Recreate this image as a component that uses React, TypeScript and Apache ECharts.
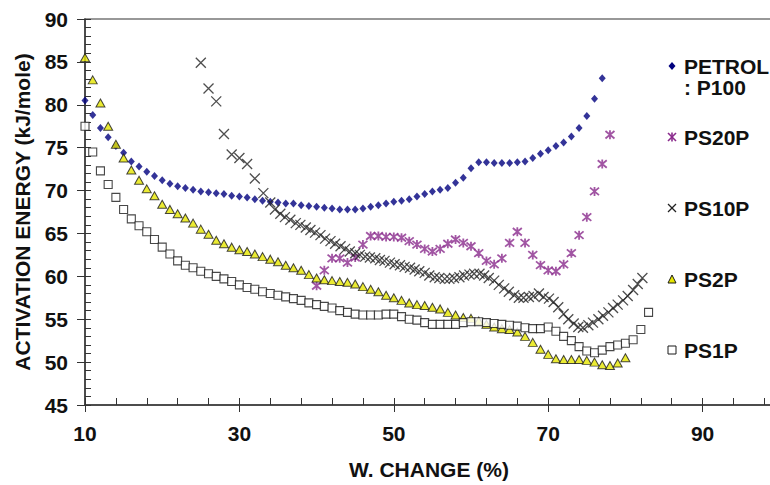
import React, { useEffect, useRef } from "react";
import * as echarts from "echarts";

// ---------- data ----------
const PETROL_START = 10;
const petrolY = [
  80.5, 78.8, 77.3, 76.2, 75.2, 74.4, 73.4, 72.8, 72.2, 71.7, 71.2, 70.8, 70.5, 70.3, 70.1, 69.9,
  69.8, 69.7, 69.6, 69.4, 69.3, 69.2, 69.0, 68.8, 68.7, 68.6, 68.5, 68.5, 68.3, 68.2, 68.1, 68.0,
  67.9, 67.8, 67.8, 67.8, 67.9, 68.1, 68.3, 68.5, 68.7, 68.8, 69.0, 69.3, 69.6, 69.9, 70.1, 70.3,
  70.9, 71.5, 72.6, 73.3, 73.3, 73.2, 73.2, 73.2, 73.3, 73.4, 73.8, 74.3, 74.7, 75.2, 75.6, 76.3,
  77.3, 78.7, 80.7, 83.1,
];

const PS20P_START = 40;
const ps20pY = [
  58.9, 60.7, 62.1, 62.1, 61.6, 62.2, 63.7, 64.7, 64.7, 64.6, 64.6, 64.5, 64.1, 63.7, 63.2, 62.9,
  63.2, 63.8, 64.3, 63.9, 63.5, 62.7, 61.8, 61.4, 62.1, 63.9, 65.2, 63.9, 62.5, 61.3, 60.7, 60.6,
  61.4, 62.7, 64.8, 66.9, 69.9, 73.1, 76.5,
];

const ps10pX = [
  25, 26, 27, 28, 29, 30, 31, 32, 33.1, 34.0, 34.6, 35.3, 35.9, 36.6, 37.3, 37.9, 38.6, 39.2, 39.8,
  40.5, 41.1, 41.8, 42.4, 43.1, 43.7, 44.3, 45.0, 45.6, 46.3, 46.9, 47.6, 48.2, 48.8, 49.5, 50.1,
  50.8, 51.4, 52.1, 52.7, 53.3, 54.0, 54.6, 55.3, 55.9, 56.6, 57.2, 57.8, 58.5, 59.1, 59.8, 60.4,
  61.1, 61.7, 62.3, 63.0, 63.6, 64.3, 64.9, 65.6, 66.2, 66.8, 67.5, 68.1, 68.8, 69.4, 70.1, 70.7,
  71.3, 72.0, 72.6, 73.3, 73.9, 74.5, 75.2, 75.8, 76.5, 77.1, 77.8, 78.4, 79.0, 79.7, 80.3, 81.0,
  81.6, 82.2,
];
const ps10pY = [
  84.9, 81.9, 80.4, 76.6, 74.2, 73.8, 73.1, 71.4, 69.7, 68.6, 67.8, 67.3, 66.9, 66.6, 66.2, 66.0,
  65.7, 65.4, 65.1, 64.8, 64.4, 64.1, 63.8, 63.5, 63.2, 62.9, 62.7, 62.5, 62.3, 62.2, 62.1, 61.9,
  61.8, 61.6, 61.4, 61.3, 61.1, 61.0, 60.8, 60.6, 60.4, 60.1, 59.9, 59.8, 59.7, 59.7, 59.8, 59.9,
  60.1, 60.2, 60.3, 60.3, 60.1, 59.8, 59.5, 59.0, 58.6, 58.2, 57.8, 57.5, 57.5, 57.6, 57.7, 58.0,
  57.6, 57.4, 57.0, 56.4, 55.6, 55.0, 54.5, 54.1, 54.0, 54.3, 54.6, 55.0, 55.4, 55.8, 56.3, 56.7,
  57.2, 57.7, 58.4, 59.1, 59.8,
];

const PS2P_START = 10;
const ps2pY = [
  85.5, 82.9, 80.2, 77.5, 75.4, 73.8, 72.4, 71.2, 70.2, 69.4, 68.4, 67.8, 67.3, 66.8, 66.2, 65.5,
  64.9, 64.2, 63.8, 63.4, 63.1, 62.9, 62.6, 62.3, 62.0, 61.7, 61.3, 61.0, 60.7, 60.2, 59.8, 59.6,
  59.5, 59.4, 59.3, 59.1, 58.8, 58.5, 58.2, 57.8, 57.5, 57.2, 56.9, 56.7, 56.6, 56.4, 56.2, 55.8,
  55.5, 55.2, 55.1, 54.8, 54.4, 54.1, 53.9, 53.8, 53.5, 53.0, 52.3, 51.5, 50.9, 50.4, 50.3, 50.3,
  50.3, 50.2, 50.0, 49.7, 49.6, 49.9, 50.5,
];

const PS1P_START = 10;
const ps1pY = [
  77.5, 74.5, 72.3, 70.7, 69.2, 67.8, 66.7, 65.9, 65.2, 64.3, 63.4, 62.6, 61.8, 61.3, 61.0, 60.6,
  60.3, 60.0, 59.7, 59.4, 59.0, 58.7, 58.5, 58.2, 58.0, 57.8, 57.6, 57.4, 57.2, 56.9, 56.7, 56.5,
  56.3, 56.0, 55.8, 55.6, 55.5, 55.5, 55.5, 55.6, 55.6, 55.3, 55.0, 54.9, 54.6, 54.4, 54.4, 54.4,
  54.4, 54.6, 54.7, 54.7, 54.6, 54.5, 54.4, 54.3, 54.2, 54.0, 53.9, 53.9, 54.1, 53.6, 53.0, 52.5,
  51.8, 51.3, 51.1, 51.4, 51.8, 52.0, 52.2, 52.6, 53.8, 55.8,
];

const X_TICKS = { min: 10, max: 110, interval: 20 };
const Y_TICKS = { min: 45, max: 90, interval: 5 };

const seriesNames = ["PETROL : P100", "PS20P", "PS10P", "PS2P", "PS1P"];

// ---------- styles ----------
const FONT = '"Liberation Sans", Arial, Helvetica, sans-serif';
const NAVY = "#00007e";
const PURPLE = "#8a2a8c";
const XCOL = "#222222";
const YELLOW = "#e6e600";
const EDGE = "#1a1a1a";

const ASTERISK = "path://M0 0L10 10M0 10L10 0M5 -1L5 11";
const CROSS = "path://M0 0L10 10M0 10L10 0";

const labelStyle = { fontSize: 21, fontWeight: "bold", fontFamily: FONT, color: "#111" };

export default function App() {
  const ref = useRef<HTMLDivElement>(null);

  useEffect(() => {
    document.body.style.margin = "0";
    if (!ref.current) return;
    const chart = echarts.init(ref.current, null, { renderer: "svg" });

    const fromStart = (start: number, ys: number[]) => ys.map((y, i) => [start + i, y]);

    const option: any = {
      animation: false,
      backgroundColor: "#ffffff",
      grid: {
        left: 85,
        top: 19,
        width: 772,
        height: 390,
        show: true,
        borderColor: "#777",
        borderWidth: 1.5,
        backgroundColor: "transparent",
      },
      xAxis: [
        {
          type: "value",
          position: "bottom",
          ...X_TICKS,
          axisLine: { lineStyle: { color: "#333", width: 1.5 } },
          axisTick: { inside: true, length: 7, lineStyle: { color: "#333", width: 1 } },
          minorTick: { show: true, splitNumber: 5, length: 7, lineStyle: { color: "#333", width: 1 } },
          axisLabel: { ...labelStyle, margin: 18, showMaxLabel: false },
          splitLine: { show: false },
          name: "W. CHANGE (%)",
          nameLocation: "middle",
          nameGap: 54,
          nameTextStyle: { ...labelStyle, padding: [0, 84, 0, 0] },
        },
        {
          type: "value",
          position: "bottom",
          ...X_TICKS,
          axisLine: { show: false },
          axisTick: { inside: false, length: 7, lineStyle: { color: "#333", width: 1 } },
          axisLabel: { show: false },
          splitLine: { show: false },
        },
      ],
      yAxis: [
        {
          type: "value",
          position: "left",
          ...Y_TICKS,
          axisLine: { show: true, lineStyle: { color: "#333", width: 1.5 } },
          axisTick: { show: true, inside: true, length: 6, lineStyle: { color: "#333", width: 1 } },
          minorTick: { show: true, splitNumber: 5, length: 6, lineStyle: { color: "#333", width: 1 } },
          axisLabel: { ...labelStyle, margin: 17 },
          splitLine: { show: false },
          name: "ACTIVATION ENERGY (kJ/mole)",
          nameLocation: "middle",
          nameRotate: 90,
          nameGap: 52,
          nameTextStyle: { ...labelStyle },
        },
        {
          type: "value",
          position: "left",
          ...Y_TICKS,
          axisLine: { show: false },
          axisTick: { show: true, inside: false, length: 8, lineStyle: { color: "#333", width: 1 } },
          axisLabel: { show: false },
          splitLine: { show: false },
        },
      ],
      series: [
        {
          name: seriesNames[0],
          type: "scatter",
          data: fromStart(PETROL_START, petrolY),
          symbol: "diamond",
          symbolSize: [7, 8],
          itemStyle: { color: NAVY },
        },
        {
          name: seriesNames[1],
          type: "scatter",
          data: fromStart(PS20P_START, ps20pY),
          symbol: ASTERISK,
          symbolSize: 9,
          itemStyle: { color: PURPLE, borderColor: PURPLE, borderWidth: 1.8 },
        },
        {
          name: seriesNames[2],
          type: "scatter",
          data: ps10pX.map((x, i) => [x, ps10pY[i]]),
          symbol: CROSS,
          symbolSize: 10,
          itemStyle: { color: XCOL, borderColor: XCOL, borderWidth: 1.3 },
        },
        {
          name: seriesNames[3],
          type: "scatter",
          data: fromStart(PS2P_START, ps2pY),
          symbol: "triangle",
          symbolSize: [9, 8],
          itemStyle: { color: YELLOW, borderColor: EDGE, borderWidth: 1 },
        },
        {
          name: seriesNames[4],
          type: "scatter",
          data: fromStart(PS1P_START, ps1pY),
          symbol: "rect",
          symbolSize: 8,
          itemStyle: { color: "#ffffff", borderColor: EDGE, borderWidth: 1.1 },
        },
      ],
      graphic: [
        // legend
        {
          type: "polygon",
          shape: { points: [[672, 62], [675.5, 66], [672, 70], [668.5, 66]] },
          style: { fill: NAVY },
        },
        {
          type: "text",
          x: 684,
          y: 66,
          style: { text: "PETROL", font: `bold 21px ${FONT}`, fill: "#111", verticalAlign: "middle", align: "left" },
        },
        {
          type: "text",
          x: 684,
          y: 87,
          style: { text: ": P100", font: `bold 21px ${FONT}`, fill: "#111", verticalAlign: "middle", align: "left" },
        },
        {
          type: "group",
          x: 672,
          y: 137,
          children: [
            { type: "line", shape: { x1: -4, y1: -4, x2: 4, y2: 4 }, style: { stroke: PURPLE, lineWidth: 1.6 } },
            { type: "line", shape: { x1: -4, y1: 4, x2: 4, y2: -4 }, style: { stroke: PURPLE, lineWidth: 1.6 } },
            { type: "line", shape: { x1: 0, y1: -4.5, x2: 0, y2: 4.5 }, style: { stroke: PURPLE, lineWidth: 1.6 } },
          ],
        },
        {
          type: "text",
          x: 684,
          y: 137,
          style: { text: "PS20P", font: `bold 21px ${FONT}`, fill: "#111", verticalAlign: "middle", align: "left" },
        },
        {
          type: "group",
          x: 672,
          y: 208,
          children: [
            { type: "line", shape: { x1: -4, y1: -4, x2: 4, y2: 4 }, style: { stroke: XCOL, lineWidth: 1.2 } },
            { type: "line", shape: { x1: -4, y1: 4, x2: 4, y2: -4 }, style: { stroke: XCOL, lineWidth: 1.2 } },
          ],
        },
        {
          type: "text",
          x: 684,
          y: 208,
          style: { text: "PS10P", font: `bold 21px ${FONT}`, fill: "#111", verticalAlign: "middle", align: "left" },
        },
        {
          type: "polygon",
          shape: { points: [[672, 275], [676, 283], [668, 283]] },
          style: { fill: YELLOW, stroke: EDGE, lineWidth: 1 },
        },
        {
          type: "text",
          x: 684,
          y: 279,
          style: { text: "PS2P", font: `bold 21px ${FONT}`, fill: "#111", verticalAlign: "middle", align: "left" },
        },
        {
          type: "rect",
          shape: { x: 668, y: 346, width: 8, height: 8 },
          style: { fill: "#ffffff", stroke: EDGE, lineWidth: 1 },
        },
        {
          type: "text",
          x: 684,
          y: 350,
          style: { text: "PS1P", font: `bold 21px ${FONT}`, fill: "#111", verticalAlign: "middle", align: "left" },
        },
      ],
    };

    chart.setOption(option);
    return () => chart.dispose();
  }, []);

  return (
    <div style={{ width: 770, height: 485, overflow: "hidden", position: "relative" }}>
      <div ref={ref} style={{ width: 880, height: 485 }} />
    </div>
  );
}
